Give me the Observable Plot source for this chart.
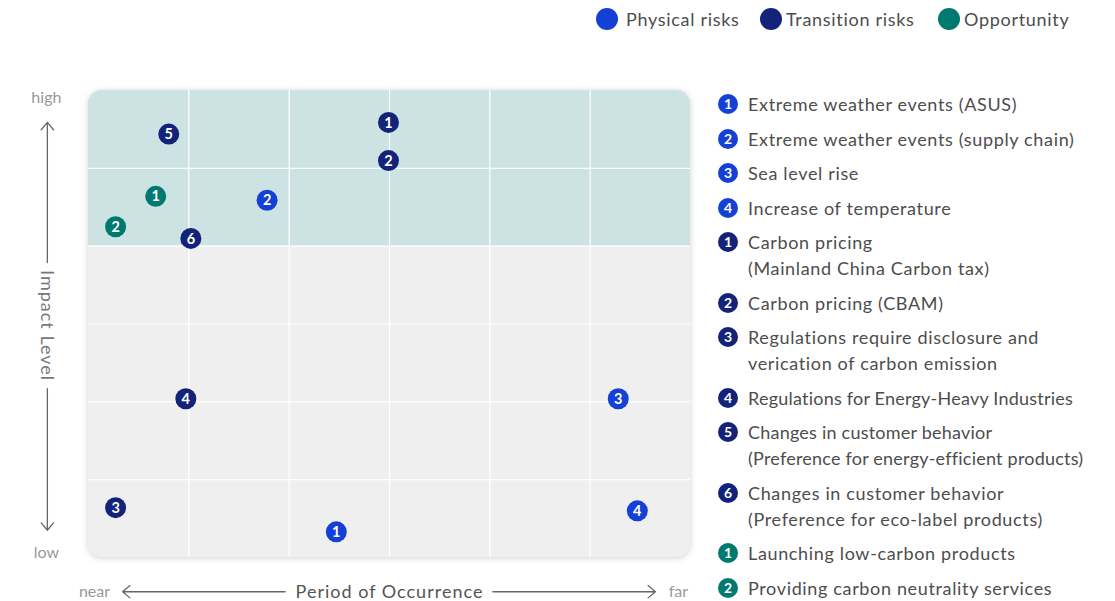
<!DOCTYPE html>
<html>
<head>
<meta charset="utf-8">
<script src="https://cdn.jsdelivr.net/npm/d3@7"></script>
<script src="https://cdn.jsdelivr.net/npm/@observablehq/plot@0.6"></script>
<style>
  html, body { margin: 0; padding: 0; background: #fff; }
  #wrap { position: relative; width: 1115px; height: 601px; font-family: Lato, "Open Sans", sans-serif; color: #4d4d4d; }
  #chart { position: absolute; left: 0; top: 0; }
  .leg { position: absolute; top: 8px; display: flex; align-items: center; font-size: 18px; line-height: 22px; letter-spacing: 0.7px; }
  .leg .c { width: 22px; height: 22px; border-radius: 50%; display: inline-block; }
  #list { position: absolute; left: 718px; top: 91px; display: flex; flex-direction: column; gap: 8.5px; }
  .item { display: flex; align-items: flex-start; font-size: 18px; line-height: 26px; }
  .item .b { width: 20px; height: 20px; border-radius: 50%; margin-top: 3px; margin-right: 10px; flex: none;
             color: #fff; font-weight: 700; font-size: 14px; line-height: 20px; text-align: center; letter-spacing: 0; }
  .item .t { white-space: pre; letter-spacing: 0.65px; }
  .item .t.tight { letter-spacing: 0.22px; }
</style>
</head>
<body>
<div id="wrap">
  <div id="chart"></div>
  <div id="legend"></div>
  <div id="list"></div>
</div>
<script>
// ---- data ----
const categories = ["Physical risks", "Transition risks", "Opportunity"];
const categoryColors = ["#1540d6", "#13237a", "#007a70"];

const physicalNames = ["Extreme weather events (ASUS)", "Extreme weather events (supply chain)", "Sea level rise", "Increase of temperature"];
const physicalPeriod = [2.47, 1.78, 5.28, 5.47];
const physicalImpact = [0.33, 4.59, 2.04, 0.60];

const transitionNames = ["Carbon pricing\n(Mainland China Carbon tax)", "Carbon pricing (CBAM)", "Regulations require disclosure and\nverication of carbon emission", "Regulations for Energy-Heavy Industries", "Changes in customer behavior\n(Preference for energy-efficient products)", "Changes in customer behavior\n(Preference for eco-label products)"];
const transitionPeriod = [2.99, 2.99, 0.27, 0.97, 0.80, 1.02];
const transitionImpact = [5.59, 5.10, 0.64, 2.04, 5.44, 4.10];

const opportunityNames = ["Launching low-carbon products", "Providing carbon neutrality services"];
const opportunityPeriod = [0.67, 0.27];
const opportunityImpact = [4.64, 4.25];

const gridTicks = [1, 2, 3, 4, 5];

// ---- build table ----
const groups = [
  [categories[0], physicalNames, physicalPeriod, physicalImpact],
  [categories[1], transitionNames, transitionPeriod, transitionImpact],
  [categories[2], opportunityNames, opportunityPeriod, opportunityImpact]
];
const rows = [];
for (const [cat, names, px, iy] of groups) {
  names.forEach((name, i) => rows.push({cat, n: String(i + 1), name, period: px[i], impact: iy[i]}));
}
const colorOf = c => categoryColors[categories.indexOf(c)];

// ---- chart ----
const axisColor = "#666";
const arrowOpts = {x1: "x1", y1: "y1", x2: "x2", y2: "y2", stroke: axisColor, strokeWidth: 1.3, headLength: 11, headAngle: 80};
const chart = Plot.plot({
  width: 1115, height: 601,
  marginLeft: 88, marginRight: 425, marginTop: 90, marginBottom: 44,
  x: {domain: [0, 6], axis: null},
  y: {domain: [0, 6], axis: null},
  color: {domain: categories, range: categoryColors},
  style: {background: "transparent", fontFamily: "Lato, sans-serif", overflow: "visible"},
  marks: [
    Plot.rect([{x1: 0, x2: 6, y1: 0, y2: 6}], {x1: "x1", x2: "x2", y1: "y1", y2: "y2", fill: "#efefef", rx: 14}),
    Plot.rect([{x1: 0, x2: 6, y1: 3, y2: 6}], {x1: "x1", x2: "x2", y1: "y1", y2: "y2", fill: "#cde3e3", rx: 14}),
    Plot.rect([{x1: 0, x2: 6, y1: 1, y2: 4}], {x1: "x1", x2: "x2", y1: "y1", y2: "y2", fill: "#efefef"}),
    Plot.ruleX(gridTicks, {stroke: "#fff", strokeWidth: 1.2, y1: 0, y2: 6}),
    Plot.ruleY(gridTicks, {stroke: "#fff", strokeWidth: 1.2, x1: 0, x2: 6}),
    // axis annotations
    Plot.arrow([{x1: -0.41, y1: 3.79, x2: -0.41, y2: 5.59}], arrowOpts),
    Plot.arrow([{x1: -0.41, y1: 2.17, x2: -0.41, y2: 0.35}], arrowOpts),
    Plot.arrow([{x1: 1.96, y1: -0.44, x2: 0.34, y2: -0.44}], arrowOpts),
    Plot.arrow([{x1: 4.03, y1: -0.44, x2: 5.65, y2: -0.44}], arrowOpts),
    Plot.text([{x: -0.42, y: 2.98, t: "Impact Level"}], {x: "x", y: "y", text: "t", rotate: 90, fontSize: 18, fill: "#777"}),
    Plot.text([{x: 3.0, y: -0.44, t: "Period of Occurrence"}], {x: "x", y: "y", text: "t", fontSize: 18, fill: "#555"}),
    Plot.text([{x: -0.42, y: 5.9, t: "high"}, {x: -0.42, y: 0.06, t: "low"}, {x: 0.06, y: -0.44, t: "near"}, {x: 5.88, y: -0.44, t: "far"}],
      {x: "x", y: "y", text: "t", fontSize: 16, fill: "#999"}),
    // data
    Plot.dot(rows, {x: "period", y: "impact", r: 10.5, fill: "cat", stroke: "none"}),
    Plot.text(rows, {x: "period", y: "impact", text: "n", fill: "#fff", fontSize: 14.5, fontWeight: "bold", dy: 0.5})
  ]
});
document.getElementById("chart").appendChild(chart);
d3.select(chart).select("g[aria-label=rect]").style("filter", "drop-shadow(0px 1px 3px rgba(0,0,0,0.18))");
d3.select(chart).selectAll("text").filter(function() { return /Impact Level|Period of Occurrence/.test(this.textContent); })
  .style("letter-spacing", "1px");

// ---- top legend ----
const legendLeft = [596, 760, 938];
const legend = document.getElementById("legend");
categories.forEach((c, i) => {
  const d = document.createElement("div");
  d.className = "leg";
  d.style.left = legendLeft[i] + "px";
  d.innerHTML = `<span class="c" style="background:${categoryColors[i]};margin-right:${i === 0 ? 8 : 4}px"></span><span>${c}</span>`;
  legend.appendChild(d);
});

// ---- right list ----
const list = document.getElementById("list");
rows.forEach(r => {
  const d = document.createElement("div");
  d.className = "item";
  const b = document.createElement("span");
  b.className = "b"; b.style.background = colorOf(r.cat); b.textContent = r.n;
  const t = document.createElement("span");
  t.className = "t" + (/Energy-Heavy|energy-efficient/.test(r.name) ? " tight" : "");
  t.textContent = r.name;
  d.appendChild(b); d.appendChild(t);
  list.appendChild(d);
});
</script>
</body>
</html>
